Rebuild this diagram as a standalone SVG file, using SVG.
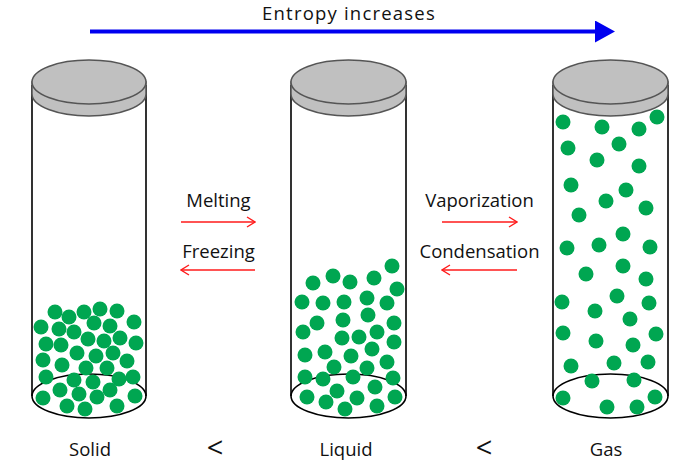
<svg xmlns="http://www.w3.org/2000/svg" width="700" height="465" viewBox="0 0 700 465">
<style>
text{font-family:"Open Sans","Noto Sans","Liberation Sans",sans-serif;fill:#111;}
.lbl{font-size:18.5px;text-anchor:middle;}
.cmp{font-size:29px;text-anchor:middle;}
.tube{fill:none;stroke:#000;stroke-width:1.6;}
.lid{fill:#c0c0c0;stroke:#555;stroke-width:1.5;}
.p{fill:#00a651;}
.red{stroke:#ff1a1a;stroke-width:1.4;fill:none;}
</style>
<defs>
<marker id="chev" viewBox="0 0 10 12" refX="9" refY="6" markerWidth="10" markerHeight="12" markerUnits="userSpaceOnUse" orient="auto">
<path d="M1,1 L9,6 L1,11" fill="none" stroke="#ff1a1a" stroke-width="1.4"/>
</marker>
<marker id="tri" viewBox="0 0 20 22" refX="2" refY="11" markerWidth="20" markerHeight="22" markerUnits="userSpaceOnUse" orient="auto">
<path d="M0,0 L20,11 L0,22 Z" fill="#0000f0"/>
</marker>
</defs>

<g id="entropy-label"><text class="lbl" x="349" y="20" style="font-size:18.5px;letter-spacing:1.2px">Entropy increases</text></g>

<g id="tube-solid">
<path class="tube" d="M32,85 V396 M146,85 V396"/>
<ellipse class="tube" cx="89" cy="396" rx="57" ry="22"/>
<g class="p">
<circle cx="55" cy="312" r="7.5"/><circle cx="69" cy="317" r="7.5"/><circle cx="84" cy="312" r="7.5"/><circle cx="100" cy="309" r="7.5"/><circle cx="117" cy="311" r="7.5"/>
<circle cx="41" cy="327" r="7.5"/><circle cx="59" cy="329" r="7.5"/><circle cx="74" cy="332" r="7.5"/><circle cx="94" cy="323" r="7.5"/><circle cx="110" cy="326" r="7.5"/><circle cx="134" cy="322" r="7.5"/>
<circle cx="46" cy="344" r="7.5"/><circle cx="61" cy="345" r="7.5"/><circle cx="88" cy="339" r="7.5"/><circle cx="104" cy="341" r="7.5"/><circle cx="120" cy="338" r="7.5"/><circle cx="136" cy="343" r="7.5"/>
<circle cx="43" cy="360" r="7.5"/><circle cx="62" cy="365" r="7.5"/><circle cx="77" cy="353" r="7.5"/><circle cx="96" cy="356" r="7.5"/><circle cx="113" cy="353" r="7.5"/><circle cx="127" cy="361" r="7.5"/>
<circle cx="86" cy="368" r="7.5"/><circle cx="107" cy="368" r="7.5"/>
<circle cx="46" cy="377" r="7.5"/><circle cx="74" cy="380" r="7.5"/><circle cx="93" cy="382" r="7.5"/><circle cx="119" cy="379" r="7.5"/><circle cx="133" cy="377" r="7.5"/><circle cx="110" cy="390" r="7.5"/>
<circle cx="60" cy="390" r="7.5"/><circle cx="79" cy="394" r="7.5"/><circle cx="97" cy="397" r="7.5"/><circle cx="135" cy="396" r="7.5"/><circle cx="43" cy="398" r="7.5"/>
<circle cx="67" cy="406" r="7.5"/><circle cx="85" cy="409" r="7.5"/><circle cx="117" cy="406" r="7.5"/>
</g>
<path class="lid" d="M32,82 V94 A57,22 0 0 0 146,94 V82 Z"/>
<ellipse class="lid" cx="89" cy="82" rx="57" ry="22"/>
<text class="lbl" x="90" y="456">Solid</text>
</g>

<g id="tube-liquid">
<path class="tube" d="M291,85 V396 M406,85 V396"/>
<ellipse class="tube" cx="348.5" cy="396" rx="57.5" ry="22"/>
<g class="p">
<circle cx="392" cy="266" r="7.5"/>
<circle cx="313" cy="283" r="7.5"/><circle cx="333" cy="276" r="7.5"/><circle cx="350" cy="282" r="7.5"/><circle cx="374" cy="278" r="7.5"/><circle cx="397" cy="289" r="7.5"/>
<circle cx="302" cy="302" r="7.5"/><circle cx="323" cy="303" r="7.5"/><circle cx="344" cy="302" r="7.5"/><circle cx="367" cy="298" r="7.5"/><circle cx="387" cy="303" r="7.5"/>
<circle cx="317" cy="323" r="7.5"/><circle cx="343" cy="320" r="7.5"/><circle cx="368" cy="315" r="7.5"/><circle cx="394" cy="323" r="7.5"/>
<circle cx="303" cy="332" r="7.5"/><circle cx="342" cy="338" r="7.5"/><circle cx="359" cy="337" r="7.5"/><circle cx="377" cy="332" r="7.5"/><circle cx="394" cy="342" r="7.5"/>
<circle cx="305" cy="355" r="7.5"/><circle cx="325" cy="352" r="7.5"/><circle cx="351" cy="356" r="7.5"/><circle cx="372" cy="349" r="7.5"/><circle cx="387" cy="362" r="7.5"/>
<circle cx="334" cy="367" r="7.5"/><circle cx="367" cy="368" r="7.5"/>
<circle cx="305" cy="377" r="7.5"/><circle cx="323" cy="379" r="7.5"/><circle cx="353" cy="377" r="7.5"/><circle cx="393" cy="378" r="7.5"/>
<circle cx="337" cy="391" r="7.5"/><circle cx="375" cy="387" r="7.5"/><circle cx="307" cy="397" r="7.5"/><circle cx="326" cy="402" r="7.5"/><circle cx="357" cy="398" r="7.5"/><circle cx="395" cy="397" r="7.5"/>
<circle cx="345" cy="409" r="7.5"/><circle cx="377" cy="406" r="7.5"/>
</g>
<path class="lid" d="M291,82 V94 A57.5,22 0 0 0 406,94 V82 Z"/>
<ellipse class="lid" cx="348.5" cy="82" rx="57.5" ry="22"/>
<text class="lbl" x="346" y="456">Liquid</text>
</g>

<g id="tube-gas">
<path class="tube" d="M553,85 V396 M668,85 V396"/>
<ellipse class="tube" cx="610.5" cy="396" rx="57.5" ry="22"/>
<g class="p">
<circle cx="563" cy="122" r="7.5"/><circle cx="602" cy="127" r="7.5"/><circle cx="639" cy="129" r="7.5"/><circle cx="657" cy="117" r="7.5"/>
<circle cx="568" cy="148" r="7.5"/><circle cx="619" cy="144" r="7.5"/>
<circle cx="597" cy="160" r="7.5"/><circle cx="639" cy="166" r="7.5"/>
<circle cx="571" cy="185" r="7.5"/><circle cx="626" cy="190" r="7.5"/>
<circle cx="606" cy="201" r="7.5"/>
<circle cx="579" cy="215" r="7.5"/><circle cx="646" cy="208" r="7.5"/>
<circle cx="623" cy="234" r="7.5"/>
<circle cx="567" cy="248" r="7.5"/><circle cx="599" cy="245" r="7.5"/><circle cx="650" cy="247" r="7.5"/>
<circle cx="586" cy="274" r="7.5"/><circle cx="623" cy="266" r="7.5"/><circle cx="646" cy="279" r="7.5"/>
<circle cx="562" cy="302" r="7.5"/><circle cx="617" cy="296" r="7.5"/><circle cx="595" cy="311" r="7.5"/><circle cx="649" cy="303" r="7.5"/><circle cx="630" cy="319" r="7.5"/>
<circle cx="563" cy="333" r="7.5"/><circle cx="596" cy="341" r="7.5"/><circle cx="633" cy="345" r="7.5"/><circle cx="656" cy="334" r="7.5"/>
<circle cx="571" cy="366" r="7.5"/><circle cx="614" cy="363" r="7.5"/><circle cx="648" cy="362" r="7.5"/>
<circle cx="592" cy="381" r="7.5"/><circle cx="634" cy="380" r="7.5"/>
<circle cx="563" cy="398" r="7.5"/><circle cx="607" cy="407" r="7.5"/><circle cx="637" cy="407" r="7.5"/><circle cx="655" cy="397" r="7.5"/>
</g>
<path class="lid" d="M553,82 V94 A57.5,22 0 0 0 668,94 V82 Z"/>
<ellipse class="lid" cx="610.5" cy="82" rx="57.5" ry="22"/>
<text class="lbl" x="606" y="456">Gas</text>
</g>

<g id="comparisons">
<text class="cmp" x="215" y="457.5">&lt;</text>
<text class="cmp" x="484" y="457.5">&lt;</text>
</g>

<g id="connectors">
<line x1="90" y1="31.5" x2="597" y2="31.5" stroke="#0000f0" stroke-width="4" marker-end="url(#tri)"/>
<line class="red" x1="181" y1="222" x2="255" y2="222" marker-end="url(#chev)"/>
<line class="red" x1="255" y1="270" x2="181" y2="270" marker-end="url(#chev)"/>
<line class="red" x1="442" y1="222" x2="517" y2="222" marker-end="url(#chev)"/>
<line class="red" x1="517" y1="270" x2="442" y2="270" marker-end="url(#chev)"/>
<text class="lbl" x="218.5" y="207">Melting</text>
<text class="lbl" x="218.5" y="258">Freezing</text>
<text class="lbl" x="479.5" y="207">Vaporization</text>
<text class="lbl" x="479.5" y="258">Condensation</text>
</g>
</svg>
